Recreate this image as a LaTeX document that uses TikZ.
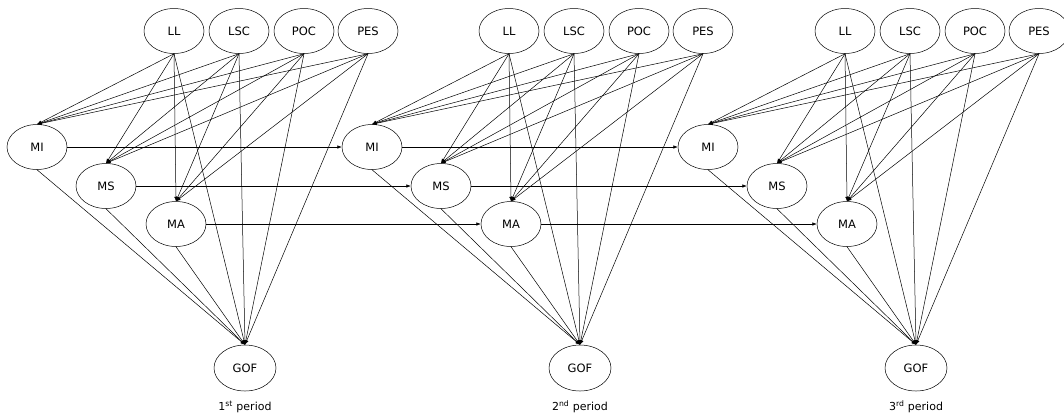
\documentclass[tikz,border=0pt]{standalone}
\usepackage{fontspec}
\setmainfont{DejaVu Sans}
\usetikzlibrary{arrows.meta,shapes.geometric}

\begin{document}
\begin{tikzpicture}[x=1pt,y=-1pt,
    var/.style={draw, ellipse, minimum width=60pt, minimum height=45pt, inner sep=0pt, line width=0.5pt, font=\fontsize{11.5}{13}\selectfont},
    path/.style={-{Latex[length=4.5pt,width=3.5pt]}, line width=0.5pt}]
  \useasboundingbox (0,0) rectangle (1064,416);
  % one panel for each period
  \foreach \p/\dx/\lab in {1/0/st, 2/335/nd, 3/671/rd} {
    \begin{scope}[xshift=\dx pt]
      \node[var] (LL\p)  at (174,31) {LL};
      \node[var] (LSC\p) at (239,31) {LSC};
      \node[var] (POC\p) at (304,31) {POC};
      \node[var] (PES\p) at (368,31) {PES};
      \node[var] (MI\p)  at (37,147) {MI};
      \node[var] (MS\p)  at (106,186) {MS};
      \node[var] (MA\p)  at (176,224) {MA};
      \node[var, minimum width=62pt, minimum height=46pt] (GOF\p) at (245,368) {GOF};
      \node[font=\fontsize{11}{13}\selectfont] (per\p) at (245,407) {\p\textsuperscript{\lab} period};
    \end{scope}
  }
  % paths inside a period
  \foreach \p in {1,2,3} {
    \foreach \s in {LL,LSC,POC,PES}
      \foreach \t in {MI,MS,MA,GOF}
        \draw[path] (\s\p.south) -- (\t\p.north);
    \foreach \s in {MI,MS,MA}
      \draw[path] (\s\p.south) -- (GOF\p.north);
  }
  % paths to the next period
  \foreach \s in {MI,MS,MA} {
    \draw[path] (\s1.east) -- (\s2.west);
    \draw[path] (\s2.east) -- (\s3.west);
  }
\end{tikzpicture}
\end{document}
